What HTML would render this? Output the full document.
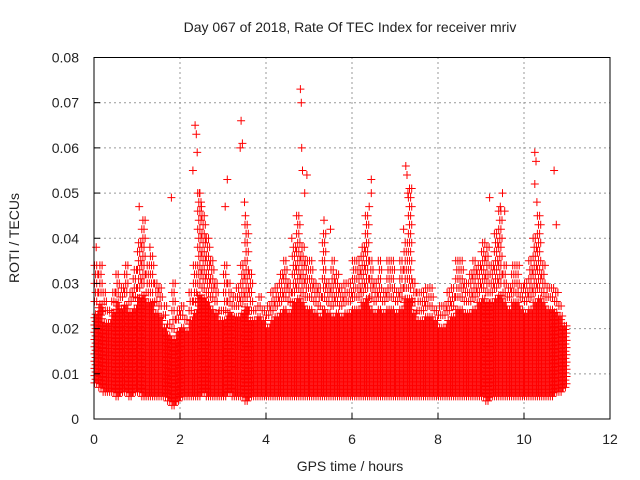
<!DOCTYPE html>
<html><head><meta charset="utf-8"><style>
html,body{margin:0;padding:0;background:#fff;}
svg{display:block;font-family:"Liberation Sans",sans-serif;}
</style></head><body>
<svg id="chart" width="640" height="480" viewBox="0 0 640 480" xmlns="http://www.w3.org/2000/svg">
<rect width="640" height="480" fill="#fff"/>
<text x="350" y="32" font-size="14" text-anchor="middle" fill="#222">Day 067 of 2018, Rate Of TEC Index for receiver mriv</text>
<g id="grid"></g>
<g id="marks"></g>
<g id="axes"></g>
<text x="350" y="471" font-size="14" text-anchor="middle" fill="#222">GPS time / hours</text>
<text transform="translate(19,238) rotate(-90)" font-size="14" text-anchor="middle" fill="#222">ROTI / TECUs</text>
</svg>
<script>
const xTicks=[0,2,4,6,8,10,12];
const yTicks=[0,0.01,0.02,0.03,0.04,0.05,0.06,0.07,0.08];
const yTickLabels=["0","0.01","0.02","0.03","0.04","0.05","0.06","0.07","0.08"];
// per 0.1h bin: lower bound, dense core top, sparse top
const binLow=[0.008,0.007,0.006,0.006,0.006,0.005,0.006,0.006,0.005,0.006,
0.006,0.005,0.005,0.005,0.005,0.005,0.005,0.004,0.003,0.004,
0.005,0.005,0.005,0.005,0.005,0.006,0.005,0.005,0.005,0.005,
0.005,0.006,0.005,0.005,0.005,0.004,0.005,0.005,0.005,0.005,
0.005,0.005,0.005,0.005,0.005,0.005,0.005,0.005,0.005,0.005,
0.005,0.005,0.005,0.005,0.005,0.005,0.005,0.005,0.005,0.005,
0.005,0.005,0.005,0.005,0.005,0.005,0.005,0.005,0.005,0.005,
0.005,0.005,0.005,0.005,0.005,0.005,0.005,0.005,0.005,0.005,
0.005,0.005,0.005,0.005,0.005,0.005,0.005,0.005,0.005,0.005,
0.005,0.004,0.005,0.005,0.005,0.005,0.005,0.005,0.005,0.005,
0.005,0.005,0.005,0.005,0.005,0.005,0.005,0.006,0.006,0.007];
const binCore=[0.024,0.026,0.022,0.022,0.024,0.026,0.025,0.026,0.024,0.025,
0.027,0.028,0.026,0.026,0.024,0.023,0.021,0.019,0.018,0.02,
0.021,0.02,0.022,0.024,0.028,0.027,0.026,0.025,0.024,0.022,
0.022,0.024,0.023,0.023,0.024,0.025,0.022,0.022,0.023,0.022,
0.021,0.022,0.023,0.024,0.025,0.024,0.026,0.027,0.026,0.025,
0.025,0.024,0.023,0.025,0.024,0.023,0.024,0.023,0.024,0.024,
0.025,0.025,0.026,0.027,0.025,0.024,0.025,0.024,0.025,0.025,
0.024,0.025,0.027,0.027,0.024,0.022,0.022,0.023,0.023,0.022,
0.021,0.021,0.022,0.023,0.025,0.025,0.024,0.024,0.025,0.026,
0.027,0.026,0.026,0.027,0.028,0.026,0.025,0.026,0.026,0.025,
0.024,0.025,0.026,0.027,0.026,0.025,0.025,0.024,0.023,0.021];
const binTop=[0.034,0.035,0.028,0.026,0.03,0.033,0.031,0.036,0.03,0.033,
0.04,0.045,0.036,0.038,0.031,0.03,0.026,0.022,0.03,0.025,
0.025,0.022,0.03,0.036,0.052,0.046,0.041,0.036,0.031,0.026,
0.036,0.031,0.028,0.03,0.036,0.045,0.032,0.026,0.028,0.026,
0.026,0.028,0.03,0.032,0.035,0.031,0.04,0.046,0.039,0.035,
0.035,0.031,0.03,0.042,0.031,0.035,0.033,0.03,0.031,0.031,
0.035,0.036,0.04,0.046,0.036,0.031,0.035,0.03,0.035,0.035,
0.03,0.035,0.04,0.052,0.031,0.029,0.028,0.031,0.03,0.026,
0.025,0.025,0.028,0.03,0.037,0.036,0.031,0.033,0.036,0.036,
0.041,0.039,0.036,0.042,0.047,0.036,0.031,0.035,0.036,0.031,
0.031,0.036,0.042,0.046,0.036,0.031,0.031,0.03,0.027,0.022];
const spikeT=[2.35,2.38,2.4,2.3,2.45,2.5,3.42,3.4,3.45,3.5,3.52,4.8,4.82,4.83,4.85,4.9,4.95,3.1,3.05,6.45,6.45,6.4,7.25,7.28,7.3,7.2,10.25,10.28,10.25,10.3,10.7,9.5,9.45,9.2,1.8,1.05,5.35,5.5,2.6,0.05,9.55,10.75,1.3,4.6];
const spikeV=[0.065,0.063,0.059,0.055,0.05,0.047,0.066,0.06,0.061,0.048,0.045,0.073,0.07,0.06,0.055,0.05,0.054,0.053,0.047,0.053,0.05,0.047,0.056,0.054,0.05,0.042,0.059,0.057,0.052,0.048,0.055,0.05,0.047,0.049,0.049,0.047,0.044,0.042,0.04,0.038,0.046,0.043,0.038,0.04];

const X0=94,X1=610,Y0=419,Y1=57.5;
const xs=t=>X0+(t/12)*(X1-X0);
const ys=v=>Y0-(v/0.08)*(Y0-Y1);
const NS="http://www.w3.org/2000/svg";
const grid=document.getElementById('grid'),axes=document.getElementById('axes'),marks=document.getElementById('marks');
function mk(tag,attrs,parent){const e=document.createElementNS(NS,tag);for(const k in attrs)e.setAttribute(k,attrs[k]);parent.appendChild(e);return e;}
xTicks.forEach(t=>{
 if(t>0&&t<12){const g=mk('line',{x1:xs(t),x2:xs(t),y1:Y0,y2:Y1,stroke:'#999','stroke-dasharray':'2,3'},grid);
 
 }
 const tk=mk('line',{x1:xs(t),x2:xs(t),y1:Y0,y2:Y0-6,stroke:'#000'},axes);
 
 
 const l=mk('text',{x:xs(t),y:Y0+25,'font-size':14,'text-anchor':'middle',fill:'#222'},axes);l.textContent=t;
 
 
});
yTicks.forEach((v,i)=>{
 if(i>0&&i<yTicks.length-1){const g=mk('line',{x1:X0,x2:X1,y1:ys(v),y2:ys(v),stroke:'#999','stroke-dasharray':'2,3'},grid);
 
 }
 const tk=mk('line',{x1:X0,x2:X0+6,y1:ys(v),y2:ys(v),stroke:'#000'},axes);
 
 
 const l=mk('text',{x:X0-15,y:ys(v)+5,'font-size':14,'text-anchor':'end',fill:'#222'},axes);l.textContent=yTickLabels[i];
 
 
});
const frame=mk('rect',{x:X0,y:Y1,width:X1-X0,height:Y0-Y1,fill:'none',stroke:'#000'},axes);


let d='';
function plus(t,v){const x=xs(t),y=ys(v);d+=`M${(x-4).toFixed(1)} ${y.toFixed(1)}h8M${x.toFixed(1)} ${(y-4).toFixed(1)}v8`;}
binLow.forEach((lo,i)=>{
 const t0=i*0.1;
 for(let s=0;s<4;s++){
  const t=t0+s*0.025+0.0125;
  for(let v=lo+(s%2)*0.0008;v<=binCore[i];v+=0.0016)plus(t,v);
  for(let v=binCore[i]+0.002+(s%2)*0.002;v<=binTop[i];v+=0.004)plus(t,v);
 }
});
spikeT.forEach((t,i)=>plus(t,spikeV[i]));
const p=mk('path',{d:d,stroke:'#f00','stroke-width':1,fill:'none'},marks);


</script>
</body></html>
